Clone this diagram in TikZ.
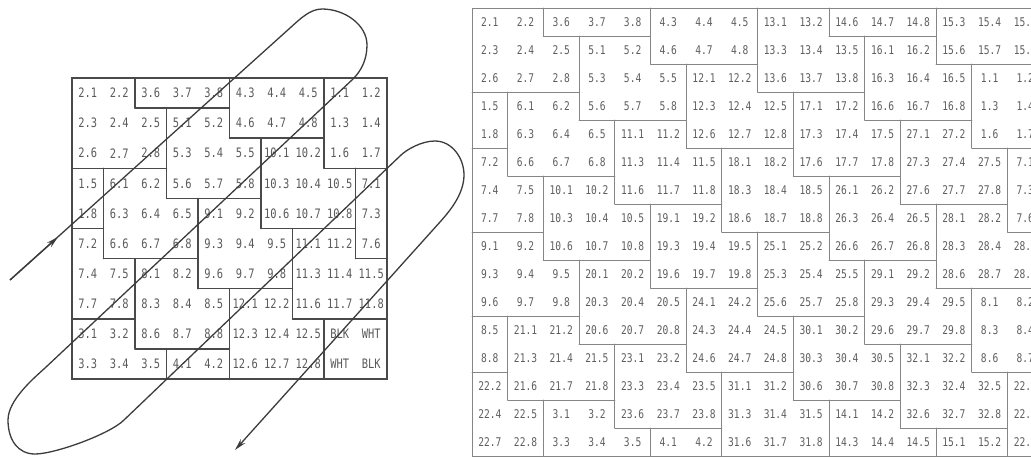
\documentclass[tikz,border=0pt]{standalone}
\usepackage{fontspec}
\usetikzlibrary{arrows.meta}
\newfontfamily\gridfont[FakeStretch=0.8]{DejaVu Sans Mono}
\definecolor{lline}{HTML}{4A4A4A}
\definecolor{ltext}{HTML}{5A5A5A}
\definecolor{rline}{HTML}{858585}
\definecolor{rtext}{HTML}{5E5E5E}
\definecolor{curvecol}{HTML}{3C3C3C}
\def\intpart#1.#2\relax{#1}
\newcommand\setrow[3]{\foreach \v [count=\c] in {#3}{%
  \expandafter\xdef\csname #1t#2-\c\endcsname{\v}%
  \expandafter\xdef\csname #1g#2-\c\endcsname{\expandafter\intpart\v.\relax}}}
% left grid
\setrow{L}{1}{2.1,2.2,3.6,3.7,3.8,4.3,4.4,4.5,1.1,1.2}
\setrow{L}{2}{2.3,2.4,2.5,5.1,5.2,4.6,4.7,4.8,1.3,1.4}
\setrow{L}{3}{2.6,2.7,2.8,5.3,5.4,5.5,10.1,10.2,1.6,1.7}
\setrow{L}{4}{1.5,6.1,6.2,5.6,5.7,5.8,10.3,10.4,10.5,7.1}
\setrow{L}{5}{1.8,6.3,6.4,6.5,9.1,9.2,10.6,10.7,10.8,7.3}
\setrow{L}{6}{7.2,6.6,6.7,6.8,9.3,9.4,9.5,11.1,11.2,7.6}
\setrow{L}{7}{7.4,7.5,8.1,8.2,9.6,9.7,9.8,11.3,11.4,11.5}
\setrow{L}{8}{7.7,7.8,8.3,8.4,8.5,12.1,12.2,11.6,11.7,11.8}
\setrow{L}{9}{3.1,3.2,8.6,8.7,8.8,12.3,12.4,12.5,BLK,WHT}
\setrow{L}{10}{3.3,3.4,3.5,4.1,4.2,12.6,12.7,12.8,WHT,BLK}
\expandafter\xdef\csname Lg9-9\endcsname{BW}
\expandafter\xdef\csname Lg9-10\endcsname{BW}
\expandafter\xdef\csname Lg10-9\endcsname{BW}
\expandafter\xdef\csname Lg10-10\endcsname{BW}
% right grid
\setrow{R}{1}{2.1,2.2,3.6,3.7,3.8,4.3,4.4,4.5,13.1,13.2,14.6,14.7,14.8,15.3,15.4,15.5}
\setrow{R}{2}{2.3,2.4,2.5,5.1,5.2,4.6,4.7,4.8,13.3,13.4,13.5,16.1,16.2,15.6,15.7,15.8}
\setrow{R}{3}{2.6,2.7,2.8,5.3,5.4,5.5,12.1,12.2,13.6,13.7,13.8,16.3,16.4,16.5,1.1,1.2}
\setrow{R}{4}{1.5,6.1,6.2,5.6,5.7,5.8,12.3,12.4,12.5,17.1,17.2,16.6,16.7,16.8,1.3,1.4}
\setrow{R}{5}{1.8,6.3,6.4,6.5,11.1,11.2,12.6,12.7,12.8,17.3,17.4,17.5,27.1,27.2,1.6,1.7}
\setrow{R}{6}{7.2,6.6,6.7,6.8,11.3,11.4,11.5,18.1,18.2,17.6,17.7,17.8,27.3,27.4,27.5,7.1}
\setrow{R}{7}{7.4,7.5,10.1,10.2,11.6,11.7,11.8,18.3,18.4,18.5,26.1,26.2,27.6,27.7,27.8,7.3}
\setrow{R}{8}{7.7,7.8,10.3,10.4,10.5,19.1,19.2,18.6,18.7,18.8,26.3,26.4,26.5,28.1,28.2,7.6}
\setrow{R}{9}{9.1,9.2,10.6,10.7,10.8,19.3,19.4,19.5,25.1,25.2,26.6,26.7,26.8,28.3,28.4,28.5}
\setrow{R}{10}{9.3,9.4,9.5,20.1,20.2,19.6,19.7,19.8,25.3,25.4,25.5,29.1,29.2,28.6,28.7,28.8}
\setrow{R}{11}{9.6,9.7,9.8,20.3,20.4,20.5,24.1,24.2,25.6,25.7,25.8,29.3,29.4,29.5,8.1,8.2}
\setrow{R}{12}{8.5,21.1,21.2,20.6,20.7,20.8,24.3,24.4,24.5,30.1,30.2,29.6,29.7,29.8,8.3,8.4}
\setrow{R}{13}{8.8,21.3,21.4,21.5,23.1,23.2,24.6,24.7,24.8,30.3,30.4,30.5,32.1,32.2,8.6,8.7}
\setrow{R}{14}{22.2,21.6,21.7,21.8,23.3,23.4,23.5,31.1,31.2,30.6,30.7,30.8,32.3,32.4,32.5,22.1}
\setrow{R}{15}{22.4,22.5,3.1,3.2,23.6,23.7,23.8,31.3,31.4,31.5,14.1,14.2,32.6,32.7,32.8,22.3}
\setrow{R}{16}{22.7,22.8,3.3,3.4,3.5,4.1,4.2,31.6,31.7,31.8,14.3,14.4,14.5,15.1,15.2,22.6}
\tikzset{
  ltxt/.style={inner sep=0pt, text=ltext, font=\gridfont\fontsize{13}{13}\selectfont},
  rtxt/.style={inner sep=0pt, text=rtext, font=\gridfont\fontsize{12}{12}\selectfont},
  lgrid/.style={draw=lline, line width=1.5pt, line cap=round},
  rgrid/.style={draw=rline, line width=0.9pt, line cap=round},
  pathline/.style={draw=curvecol, line width=1.3pt},
  tip/.style={-{Stealth[length=12pt,width=6pt]}}
}
\begin{document}
\begin{tikzpicture}[x=1pt,y=-1pt]
\useasboundingbox[fill=white] (0,0) rectangle (1031,456);
\begin{scope}
\clip (0,0) rectangle (1031,456);
% ---------- left grid ----------
\foreach \r in {1,...,10}{
  \foreach \c in {1,...,10}{
    \node[ltxt] (L\r-\c) at ({72+31.5*(\c-0.5)},{78+30.1*(\r-0.5)}) {\csname Lt\r-\c\endcsname};
  }
}
\foreach \r in {1,...,10}{
  \foreach \c [evaluate=\c as \cn using int(\c+1)] in {1,...,9}{
    \edef\ga{\csname Lg\r-\c\endcsname}\edef\gb{\csname Lg\r-\cn\endcsname}%
    \ifx\ga\gb\else
      \draw[lgrid] ({72+31.5*\c},{78+30.1*(\r-1)}) -- ++(0,30.1);
    \fi
  }
}
\foreach \r [evaluate=\r as \rn using int(\r+1)] in {1,...,9}{
  \foreach \c in {1,...,10}{
    \edef\ga{\csname Lg\r-\c\endcsname}\edef\gb{\csname Lg\rn-\c\endcsname}%
    \ifx\ga\gb\else
      \draw[lgrid] ({72+31.5*(\c-1)},{78+30.1*\r}) -- ++(31.5,0);
    \fi
  }
}
\draw[lgrid] (72,78) rectangle (387,379);
% ---------- right grid ----------
\foreach \r in {1,...,16}{
  \foreach \c in {1,...,16}{
    \node[rtxt] (R\r-\c) at ({472+35.7*(\c-0.5)},{8+28*(\r-0.5)}) {\csname Rt\r-\c\endcsname};
  }
}
\foreach \r in {1,...,16}{
  \foreach \c [evaluate=\c as \cn using int(\c+1)] in {1,...,15}{
    \edef\ga{\csname Rg\r-\c\endcsname}\edef\gb{\csname Rg\r-\cn\endcsname}%
    \ifx\ga\gb\else
      \draw[rgrid] ({472+35.7*\c},{8+28*(\r-1)}) -- ++(0,28);
    \fi
  }
}
\foreach \r [evaluate=\r as \rn using int(\r+1)] in {1,...,15}{
  \foreach \c in {1,...,16}{
    \edef\ga{\csname Rg\r-\c\endcsname}\edef\gb{\csname Rg\rn-\c\endcsname}%
    \ifx\ga\gb\else
      \draw[rgrid] ({472+35.7*(\c-1)},{8+28*\r}) -- ++(35.7,0);
    \fi
  }
}
\draw[rgrid] (472,8) rectangle ({472+35.7*16},456);
% ---------- traversal curve ----------
\coordinate (S) at (10,280);
\coordinate (Atip) at (58,237);
\coordinate (A1) at (290,28);
\coordinate (T1) at (322,9);
\coordinate (R1) at (367,45);
\coordinate (B0) at (353,79);
\coordinate (B1) at (45,368);
\coordinate (L2) at (8,420);
\coordinate (Bo2) at (35,454);
\coordinate (C0) at (124,420);
\coordinate (C1) at (400,156);
\coordinate (T3) at (435,141);
\coordinate (R3) at (464,175);
\coordinate (D0) at (440,222);
\coordinate (E) at (235,450);
\draw[pathline, tip] (S) -- (Atip);
\draw[pathline, tip] (S) -- (A1)
  .. controls (300,19) and (310,9) .. (T1)
  .. controls (345,9) and (367,25) .. (R1)
  .. controls (367,60) and (361,71) .. (B0)
  -- (B1)
  .. controls (34,378) and (8,400) .. (L2)
  .. controls (8,440) and (18,454) .. (Bo2)
  .. controls (55,454) and (110,434) .. (C0)
  -- (C1)
  .. controls (407,149) and (422,141) .. (T3)
  .. controls (452,141) and (464,158) .. (R3)
  .. controls (464,195) and (448,213) .. (D0)
  -- (E);
\end{scope}
\end{tikzpicture}
\end{document}
